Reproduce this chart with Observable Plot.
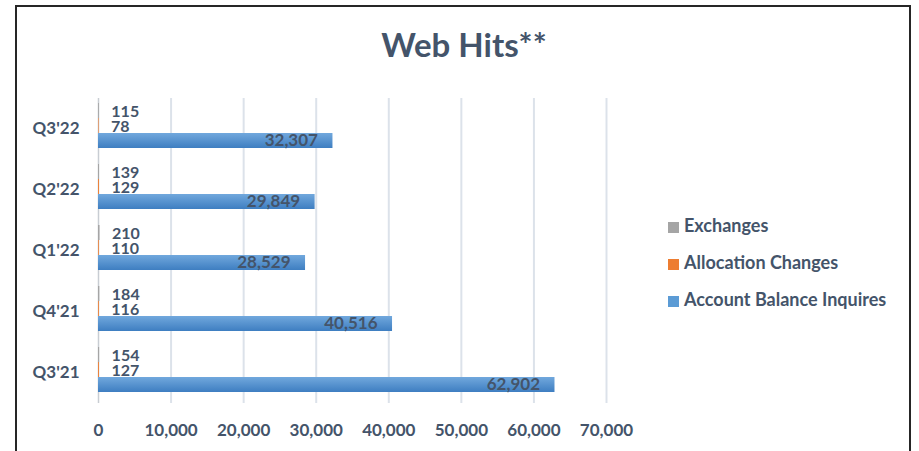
<!DOCTYPE html>
<html>
<head>
<meta charset="utf-8">
<script src="https://cdn.jsdelivr.net/npm/d3@7"></script>
<script src="https://cdn.jsdelivr.net/npm/@observablehq/plot@0.6"></script>
<style>
  html, body { margin: 0; padding: 0; background: #fff; }
  #wrap { position: relative; width: 919px; height: 451px; overflow: hidden; background: #fff; font-family: Lato, "Open Sans", sans-serif; }
  #frame { position: absolute; left: 15px; top: 5px; width: 896px; height: 470px; border: 2px solid #262626; box-sizing: border-box; }
  #title { position: absolute; left: 15px; width: 898px; top: 23px; text-align: center; font-size: 33px; font-weight: bold; color: #44546A; line-height: 42px; }
  #chart { position: absolute; left: 0; top: 0; }
  .leg { position: absolute; left: 668px; font-size: 18px; font-weight: bold; color: #44546A; line-height: 20px; white-space: nowrap; }
  .leg span { display: inline-block; width: 11px; height: 11px; margin-right: 5px; vertical-align: -1px; }
</style>
</head>
<body>
<div id="wrap">
  <div id="frame"></div>
  <div id="title">Web Hits**</div>
  <div id="chart"></div>
  <div id="legend"></div>
</div>
<script>
const quarters = ["Q3'22", "Q2'22", "Q1'22", "Q4'21", "Q3'21"];
const seriesNames = ["Exchanges", "Allocation Changes", "Account Balance Inquires"];
const exchanges = [115, 139, 210, 184, 154];
const allocationChanges = [78, 129, 110, 116, 127];
const accountBalanceInquires = [32307, 29849, 28529, 40516, 62902];
const xTicks = [0, 10000, 20000, 30000, 40000, 50000, 60000, 70000];
const seriesColors = ["#A5A5A5", "#ED7D31", "#5B9BD5"];

const seriesValues = [exchanges, allocationChanges, accountBalanceInquires];
const rows = [];
quarters.forEach((q, i) => {
  seriesNames.forEach((s, j) => {
    rows.push({quarter: q, series: s, value: seriesValues[j][i]});
  });
});
const small = rows.filter(d => d.series !== "Account Balance Inquires");
const big = rows.filter(d => d.series === "Account Balance Inquires");
const fmt = d3.format(",");

const chart = Plot.plot({
  width: 919,
  height: 451,
  marginLeft: 98,
  marginRight: 313,
  marginTop: 97,
  marginBottom: 48,
  style: {fontFamily: "Lato, 'Open Sans', sans-serif", fontSize: "17px", fontWeight: "bold", color: "#44546A", background: "transparent", overflow: "visible"},
  x: {domain: [0, 70000], ticks: xTicks, tickFormat: fmt, tickSize: 0, tickPadding: 20, label: null},
  fy: {domain: quarters, padding: 0, tickSize: 0, tickPadding: 19, label: null},
  y: {domain: seriesNames, paddingInner: 0, paddingOuter: 0.4125, align: 0.3, axis: null},
  color: {domain: seriesNames, range: seriesColors},
  marks: [
    Plot.ruleX(xTicks.filter(t => t > 0), {stroke: "#DCE2EA", strokeWidth: 2}),
    Plot.ruleX([0], {stroke: "#C8CDD3", strokeWidth: 1.5}),
    Plot.barX(small, {x: "value", y: "series", fy: "quarter", fill: "series", inset: 0}),
    Plot.text(small, {x: "value", y: "series", fy: "quarter", text: d => fmt(d.value), textAnchor: "start", dx: 12, dy: 1, fontSize: 16, fill: "#44546A"}),
    Plot.barX(big, {x: "value", y: "series", fy: "quarter", fill: "url(#blueGrad)", inset: 0}),
    Plot.text(big, {x: "value", y: "series", fy: "quarter", text: d => fmt(d.value), textAnchor: "end", dx: -15, fontSize: 17, fill: "#44546A"})
  ]
});

const ns = "http://www.w3.org/2000/svg";
const defs = document.createElementNS(ns, "defs");
defs.innerHTML = '<linearGradient id="blueGrad" x1="0" y1="0" x2="0" y2="1">' +
  '<stop offset="0" stop-color="#71A8DD"/><stop offset="1" stop-color="#3E7EC1"/></linearGradient>';
chart.insertBefore(defs, chart.firstChild);
document.getElementById("chart").appendChild(chart);

const legendTops = [215, 252, 289];
const legend = document.getElementById("legend");
seriesNames.forEach((s, i) => {
  const div = document.createElement("div");
  div.className = "leg";
  div.style.top = legendTops[i] + "px";
  const sw = document.createElement("span");
  sw.style.background = seriesColors[i];
  div.appendChild(sw);
  div.appendChild(document.createTextNode(s));
  legend.appendChild(div);
});
</script>
</body>
</html>
